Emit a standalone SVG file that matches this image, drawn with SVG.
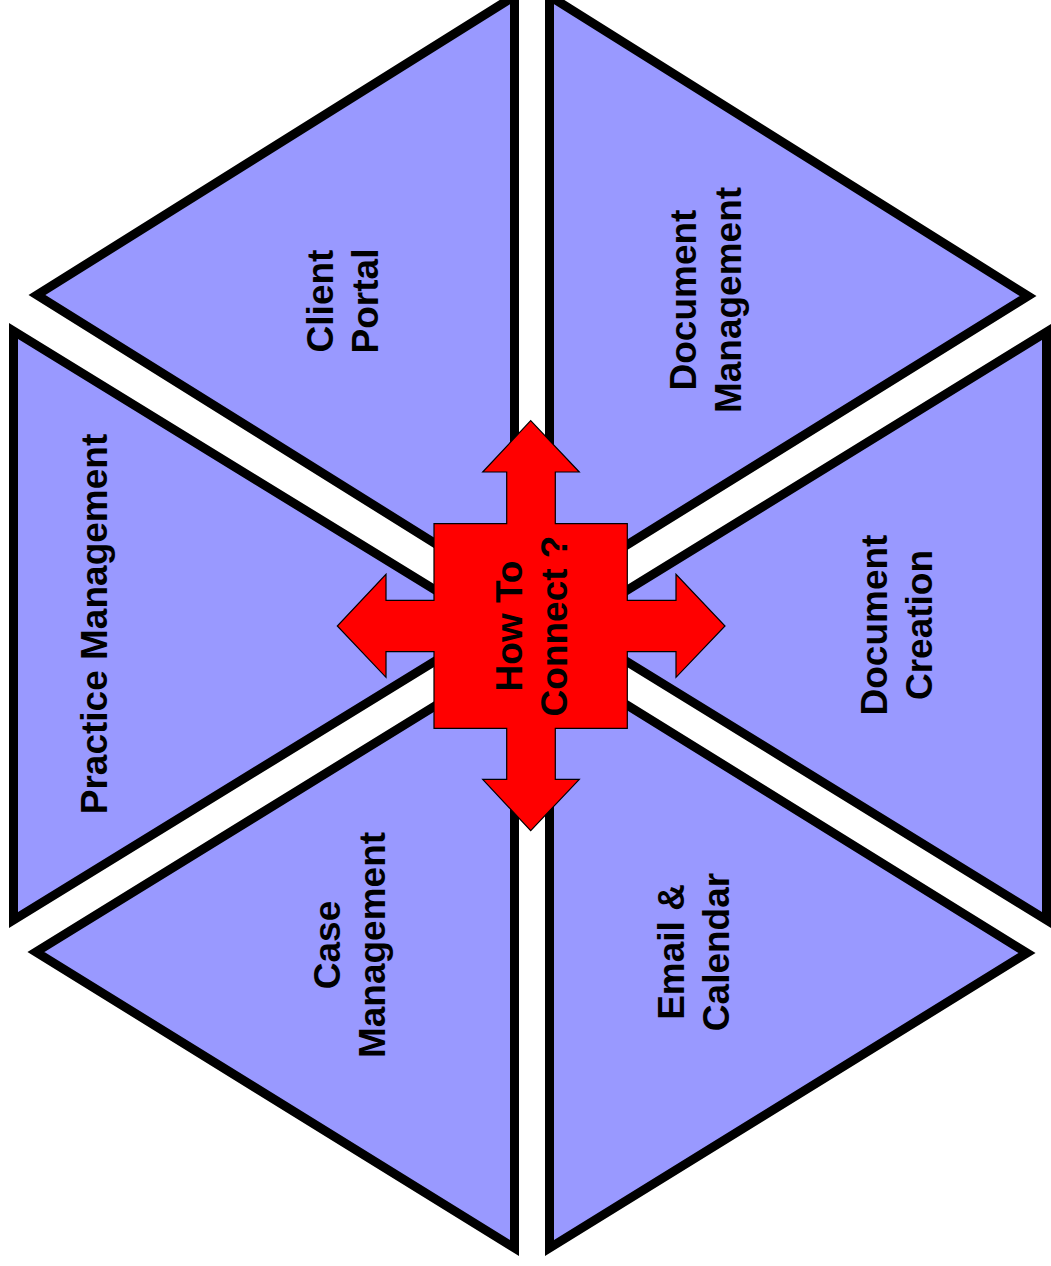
<svg xmlns="http://www.w3.org/2000/svg" width="1051" height="1266" viewBox="0 0 1051 1266">
<style>
.tri{fill:#9999FF;stroke:#000;stroke-width:9;stroke-linejoin:miter;stroke-miterlimit:10}
.lbl{font-family:"Liberation Sans",Arial,Helvetica,sans-serif;font-weight:bold;font-size:37px;fill:#000;text-anchor:middle}
.hub{fill:#FF0000;stroke:#000;stroke-width:1.2;stroke-linejoin:miter}
</style>
<rect width="1051" height="1266" fill="#fff"/>
<g id="client-portal">
<polygon class="tri" points="514.5,-4 37,295 514.5,593"/>
<text class="lbl" transform="translate(333,301) rotate(-90)"><tspan x="0" y="0">Client</tspan><tspan x="0" y="45">Portal</tspan></text>
</g>
<g id="document-management">
<polygon class="tri" points="549.5,-4 1028,296 549.5,593"/>
<text class="lbl" transform="translate(696,300) rotate(-90)"><tspan x="0" y="0">Document</tspan><tspan x="0" y="45">Management</tspan></text>
</g>
<g id="practice-management">
<polygon class="tri" points="13.5,331 13.5,920 493,625.5"/>
<text class="lbl" transform="translate(106.5,624) rotate(-90)"><tspan x="0" y="0">Practice Management</tspan></text>
</g>
<g id="document-creation">
<polygon class="tri" points="1046.5,332 1046.5,920 569,626"/>
<text class="lbl" transform="translate(887,625) rotate(-90)"><tspan x="0" y="0">Document</tspan><tspan x="0" y="45">Creation</tspan></text>
</g>
<g id="case-management">
<polygon class="tri" points="514.5,657 36,952 514.5,1248"/>
<text class="lbl" transform="translate(340,945) rotate(-90)"><tspan x="0" y="0">Case</tspan><tspan x="0" y="45">Management</tspan></text>
</g>
<g id="email-calendar">
<polygon class="tri" points="549.5,657 1027,953 549.5,1248"/>
<text class="lbl" transform="translate(684,952) rotate(-90)"><tspan x="0" y="0">Email &amp;</tspan><tspan x="0" y="45">Calendar</tspan></text>
</g>
<g id="connectors">
<path class="hub" d="M530.7,420.7 L579.3,472 L555.3,472 L555.3,523.7 L627.3,523.7 L627.3,600.3 L676,600.3 L676,574.3 L725,626 L676,677.3 L676,651.7 L627.3,651.7 L627.3,728.3 L555.3,728.3 L555.3,779.3 L579.3,779.3 L530.7,830.7 L482.7,779.3 L506.7,779.3 L506.7,728.3 L434,728.3 L434,651.7 L386,651.7 L386,677.3 L337.3,626 L386,574.3 L386,600.3 L434,600.3 L434,523.7 L506.7,523.7 L506.7,472 L482.7,472 Z"/>
</g>
<g id="how-to-connect">
<text class="lbl" transform="translate(521.7,626) rotate(-90)"><tspan x="0" y="0">How To</tspan><tspan x="0" y="45">Connect ?</tspan></text>
</g>
</svg>
